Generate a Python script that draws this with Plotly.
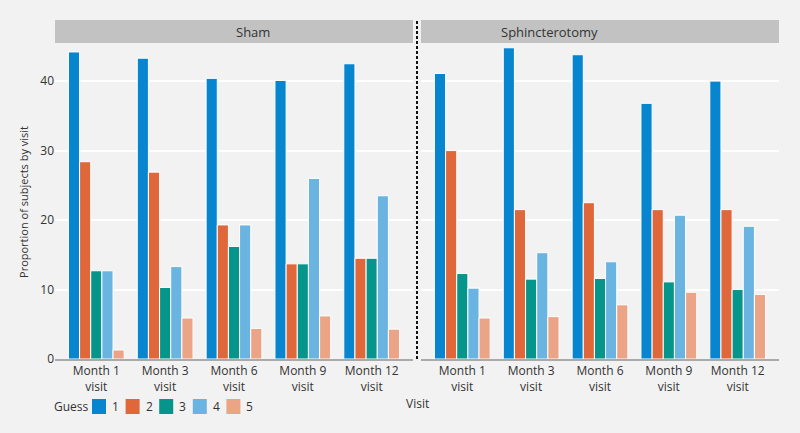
import plotly.graph_objects as go

visits = ["Month 1<br>visit", "Month 3<br>visit", "Month 6<br>visit", "Month 9<br>visit", "Month 12<br>visit"]
guesses = ["1", "2", "3", "4", "5"]
panels = ["Sham", "Sphincterotomy"]

# proportion of subjects by visit, one list per guess
sham = {
    "1": [44.2, 43.3, 40.4, 40.1, 42.5],
    "2": [28.4, 26.9, 19.3, 13.7, 14.5],
    "3": [12.7, 10.3, 16.2, 13.7, 14.5],
    "4": [12.7, 13.3, 19.3, 26.0, 23.5],
    "5": [1.3, 5.9, 4.4, 6.2, 4.3],
}
sphincterotomy = {
    "1": [41.1, 44.8, 43.8, 36.8, 40.0],
    "2": [30.0, 21.5, 22.5, 21.5, 21.5],
    "3": [12.3, 11.5, 11.6, 11.1, 10.0],
    "4": [10.2, 15.3, 14.0, 20.7, 19.1],
    "5": [5.9, 6.1, 7.8, 9.6, 9.3],
}

colors = ["#0785cf", "#e0673a", "#06958a", "#69b4e0", "#eca487"]
bg = "#f2f2f2"
font = "Open Sans"
txt = "#333333"

W, H = 800, 433
ML, MR, MT, MB = 55, 20, 45, 74
pw, ph = W - ML - MR, H - MT - MB


def px_x(px):
    return (px - ML) / pw


def px_y(py):
    return (H - MB - py) / ph


fig = go.Figure()
for p, (data, xa) in enumerate([(sham, "x"), (sphincterotomy, "x2")]):
    for g, c in zip(guesses, colors):
        fig.add_trace(go.Bar(
            x=visits, y=data[g], name=g, xaxis=xa, yaxis="y",
            marker=dict(color=c, line=dict(color="white", width=1)),
            showlegend=False,
        ))

left_dom = [0, px_x(413)]
right_dom = [px_x(421), px_x(779)]

# ggplot-like discrete expansion: 0.6 category on each side
axis_common = dict(showgrid=False, showline=True, linecolor="#aaaaaa", linewidth=2,
                   ticks="", tickfont=dict(size=12, color=txt), range=[-0.6, 4.6])
fig.update_layout(
    width=W, height=H,
    margin=dict(l=ML, r=MR, t=MT, b=MB, autoexpand=False),
    paper_bgcolor=bg, plot_bgcolor=bg,
    font=dict(family=font, size=12, color=txt),
    barmode="group", bargap=0.19, bargroupgap=0.0,
    xaxis=dict(domain=left_dom, anchor="y", **axis_common),
    xaxis2=dict(domain=right_dom, anchor="y", **axis_common),
    yaxis=dict(range=[0, 45.2], tickvals=[0, 10, 20, 30, 40], showgrid=True,
               gridcolor="white", gridwidth=2, zeroline=False, showline=False,
               tickfont=dict(size=12, color=txt),
               title=dict(text="Proportion of subjects by visit", font=dict(size=11), standoff=9)),
    showlegend=False,
)

# strip headers
for name, dom in zip(panels, [left_dom, right_dom]):
    fig.add_shape(type="rect", xref="paper", yref="paper", x0=dom[0], x1=dom[1],
                  y0=px_y(43), y1=px_y(20), fillcolor="#c2c2c2", line=dict(width=0), layer="below")
    fig.add_annotation(text=name, xref="paper", yref="paper", x=(dom[0] + dom[1]) / 2,
                       y=px_y(31.5), yanchor="middle", showarrow=False,
                       font=dict(size=13, color=txt))

# dashed divider
fig.add_shape(type="line", xref="paper", yref="paper", x0=px_x(417), x1=px_x(417),
              y0=0, y1=px_y(20), line=dict(color="#111111", width=2, dash="3px,2px"))

fig.add_annotation(text="Visit", xref="paper", yref="paper", x=px_x(417), y=px_y(403),
                   yanchor="middle", showarrow=False, font=dict(size=12, color=txt))

# legend: Guess + colour keys
fig.add_annotation(text="Guess", xref="paper", yref="paper", x=px_x(52), y=px_y(406),
                   xanchor="left", yanchor="middle", showarrow=False,
                   font=dict(size=12, color=txt))
for i, (g, c) in enumerate(zip(guesses, colors)):
    x0 = 92 + i * 33.6
    fig.add_shape(type="rect", xref="paper", yref="paper", x0=px_x(x0), x1=px_x(x0 + 14),
                  y0=px_y(414), y1=px_y(399), fillcolor=c, line=dict(width=0))
    fig.add_annotation(text=g, xref="paper", yref="paper", x=px_x(x0 + 18), y=px_y(406),
                       xanchor="left", yanchor="middle", showarrow=False,
                       font=dict(size=12, color=txt))

# drop the default body margin so the figure sits at the window origin
fig.write_html("out.html", config={"displayModeBar": False},
               post_script="document.body.style.margin='0';")
